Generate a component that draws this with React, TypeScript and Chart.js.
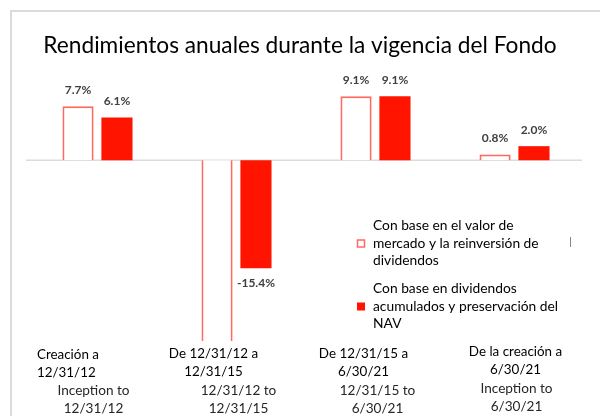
import React, { useEffect, useRef } from "react";
import { Chart, registerables } from "chart.js";

Chart.register(...registerables);

const title = "Rendimientos anuales durante la vigencia del Fondo";
const categoriesEs: string[][] = [
  ["Creación a", "12/31/12"],
  ["De 12/31/12 a", "12/31/15"],
  ["De 12/31/15 a", "6/30/21"],
  ["De la creación a", "6/30/21"],
];
const categoriesEn: string[][] = [
  ["Inception to", "12/31/12"],
  ["12/31/12 to", "12/31/15"],
  ["12/31/15 to", "6/30/21"],
  ["Inception to", "6/30/21"],
];
const seriesNames: string[][] = [
  ["Con base en el valor de", "mercado y la reinversión de", "dividendos"],
  ["Con base en dividendos", "acumulados y preservación del", "NAV"],
];
const marketValues = [7.7, -30, 9.1, 0.8];
const navValues = [6.1, -15.4, 9.1, 2.0];
const yMin = -25.75;
const yMax = 10;

const FONT = "Lato, 'Open Sans', sans-serif";
const RED = "#ff1400";
const PINK = "#ff6a60";

const overlay = {
  id: "overlay",
  beforeDatasetsDraw(chart: any) {
    const { ctx } = chart;
    const y0 = chart.scales.y.getPixelForValue(0);
    ctx.save();
    ctx.strokeStyle = "#cfcfcf";
    ctx.lineWidth = 1.5;
    ctx.beginPath();
    ctx.moveTo(11, 416);
    ctx.lineTo(11, 11);
    ctx.lineTo(600, 11);
    ctx.stroke();
    ctx.strokeStyle = "#dcdcdc";
    ctx.lineWidth = 1.5;
    ctx.beginPath();
    ctx.moveTo(26, y0);
    ctx.lineTo(582, y0);
    ctx.stroke();
    ctx.restore();
  },
  afterDraw(chart: any) {
    const { ctx } = chart;
    const x = chart.scales.x;
    const y = chart.scales.y;
    ctx.save();
    ctx.fillStyle = "#000";
    ctx.font = `22.7px ${FONT}`;
    ctx.textAlign = "center";
    ctx.textBaseline = "middle";
    ctx.fillText(title, 300, 46);

    ctx.font = `bold 12px ${FONT}`;
    ctx.fillStyle = "#404040";
    chart.data.datasets.forEach((ds: any, di: number) => {
      const meta = chart.getDatasetMeta(di);
      meta.data.forEach((bar: any, i: number) => {
        const v = ds.data[i];
        if (v < yMin || v > yMax) return;
        const txt = v.toFixed(1) + "%";
        const py = y.getPixelForValue(v);
        ctx.fillText(txt, bar.x, v >= 0 ? py - 16 : py + 15);
      });
    });

    const esOffsets = [-1, -23, -12, 1];
    categoriesEs.forEach((lines, i) => {
      const cx = x.getPixelForValue(i);
      ctx.font = `13.4px ${FONT}`;
      ctx.fillStyle = "#000";
      lines.forEach((ln, k) => {
        if (i === 0) {
          ctx.textAlign = "left";
          ctx.fillText(ln, 37, 355 + k * 18);
        } else {
          ctx.textAlign = "center";
          ctx.fillText(ln, cx + esOffsets[i], (i === 3 ? 352 : 354) + k * 18);
        }
      });
      ctx.textAlign = "center";
      ctx.font = `13.6px ${FONT}`;
      ctx.fillStyle = "#262626";
      categoriesEn[i].forEach((ln, k) => {
        ctx.fillText(ln, cx + (i === 0 ? -4 : 2), (i === 3 ? 389 : 391) + k * 18);
      });
    });

    ctx.textAlign = "left";
    ctx.font = `13.8px ${FONT}`;
    ctx.fillStyle = "#000";
    seriesNames.forEach((lines, si) => {
      const top = si === 0 ? 226 : 289;
      lines.forEach((ln, k) => ctx.fillText(ln, 373, top + k * 17.5));
      const by = top + 17.5 - 4;
      if (si === 0) {
        ctx.fillStyle = "#fff";
        ctx.fillRect(357, by, 8, 8);
        ctx.strokeStyle = PINK;
        ctx.lineWidth = 1.5;
        ctx.strokeRect(357.5, by + 0.5, 7, 7);
      } else {
        ctx.fillStyle = RED;
        ctx.fillRect(357, by, 8, 8);
      }
      ctx.fillStyle = "#000";
    });
    ctx.strokeStyle = "#888";
    ctx.lineWidth = 1;
    ctx.beginPath();
    ctx.moveTo(570.5, 237);
    ctx.lineTo(570.5, 247);
    ctx.stroke();
    ctx.restore();
  },
};

export default function App() {
  const ref = useRef<HTMLCanvasElement | null>(null);
  useEffect(() => {
    if (!ref.current) return;
    const chart = new Chart(ref.current, {
      type: "bar",
      data: {
        labels: categoriesEn.map((c) => c.join(" ")),
        datasets: [
          {
            label: seriesNames[0].join(" "),
            data: marketValues,
            backgroundColor: "#ffffff",
            borderColor: PINK,
            borderWidth: 2,
            categoryPercentage: 0.56,
            barPercentage: 0.8,
          },
          {
            label: seriesNames[1].join(" "),
            data: navValues,
            backgroundColor: RED,
            borderWidth: 0,
            categoryPercentage: 0.56,
            barPercentage: 0.8,
          },
        ],
      },
      options: {
        responsive: false,
        animation: false,
        devicePixelRatio: 1,
        layout: { padding: { left: 28, right: 16, top: 90, bottom: 75 } },
        scales: {
          x: { display: false },
          y: { display: false, min: yMin, max: yMax },
        },
        plugins: {
          legend: { display: false },
          title: { display: false },
          tooltip: { enabled: false },
        },
      },
      plugins: [overlay],
    });
    return () => chart.destroy();
  }, []);
  return (
    <div style={{ position: "absolute", left: 0, top: 0, width: 600, height: 416, background: "#fff" }}>
      <canvas ref={ref} width={600} height={416} />
    </div>
  );
}
